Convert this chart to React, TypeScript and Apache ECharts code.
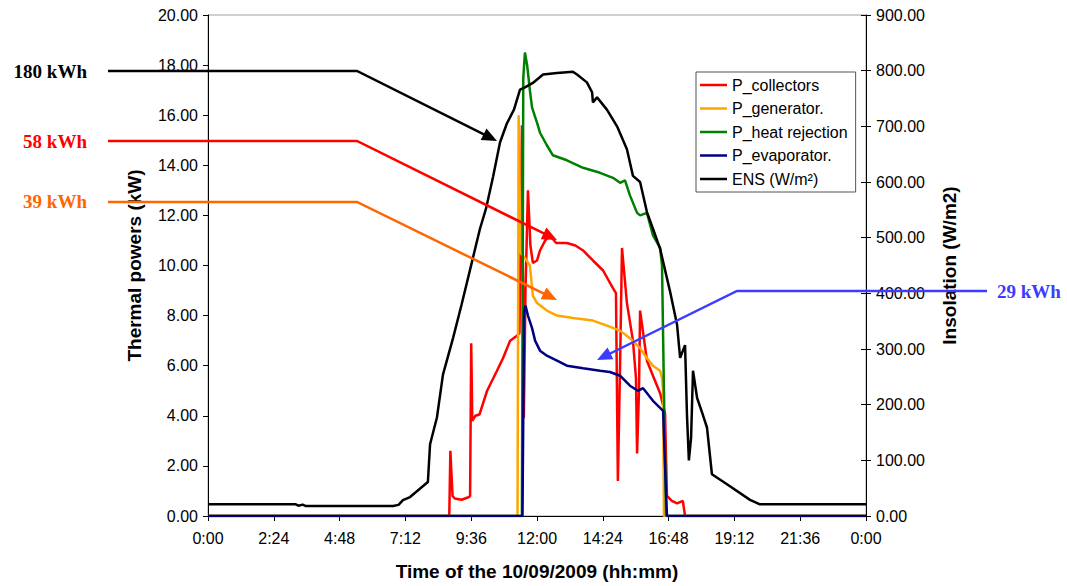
import React, { useEffect, useRef } from "react";
import * as echarts from "echarts";

// [hour of day, kW]
const collectorsData: number[][] = [
  [0, 0], [8.8, 0], [8.84, 2.6], [8.92, 0.8], [9.0, 0.7], [9.25, 0.65], [9.5, 0.75], [9.56, 0.8],
  [9.6, 6.9], [9.64, 3.8], [9.75, 4.0], [9.9, 4.05], [10.18, 5.0], [10.54, 5.8], [10.76, 6.3],
  [11.02, 7.0], [11.27, 7.2], [11.36, 7.3], [11.45, 15.6], [11.52, 3.9], [11.58, 9.0], [11.67, 13.0],
  [11.76, 10.8], [11.85, 10.1], [12.0, 10.2], [12.11, 10.6], [12.3, 11.0], [12.47, 11.2], [12.7, 10.9],
  [13.09, 10.9], [13.4, 10.8], [13.68, 10.6], [14.04, 10.2], [14.41, 9.8], [14.77, 9.1], [14.88, 8.9],
  [14.95, 1.4], [15.03, 6.0], [15.1, 10.7], [15.28, 8.5], [15.5, 7.0], [15.61, 5.5], [15.65, 2.5],
  [15.72, 5.0], [15.76, 8.2], [16.01, 6.2], [16.23, 5.6], [16.49, 4.9], [16.67, 4.1], [16.74, 0.8],
  [16.92, 0.6], [17.11, 0.5], [17.32, 0.6], [17.4, 0], [24, 0],
];

const generatorData: number[][] = [
  [0, 0], [11.29, 0], [11.33, 16.0], [11.4, 10.5], [11.56, 10.3], [11.74, 10.0], [11.85, 8.8],
  [12.0, 8.5], [12.36, 8.2], [12.73, 8.0], [13.31, 7.9], [14.04, 7.8], [14.55, 7.6], [15.03, 7.4],
  [15.39, 7.1], [15.76, 6.7], [16.01, 6.3], [16.23, 6.0], [16.49, 5.8], [16.56, 5.5], [16.6, 5.0],
  [16.63, 0], [24, 0],
];

const heatRejectionData: number[][] = [
  [0, 0], [11.45, 0], [11.5, 17.5], [11.56, 18.5], [11.64, 18.0], [11.74, 17.0], [11.82, 16.3],
  [12.0, 15.7], [12.11, 15.3], [12.36, 14.8], [12.58, 14.4], [13.09, 14.2], [13.68, 13.9],
  [14.3, 13.7], [14.77, 13.5], [15.03, 13.3], [15.21, 13.4], [15.39, 12.8], [15.65, 12.1],
  [15.76, 12.0], [16.01, 12.1], [16.23, 11.2], [16.49, 10.7], [16.56, 10.0], [16.63, 5.0],
  [16.71, 0], [24, 0],
];

const evaporatorData: number[][] = [
  [0, 0], [11.47, 0], [11.53, 8.2], [11.58, 8.4], [11.67, 8.0], [11.82, 7.5], [11.93, 7.0],
  [12.11, 6.6], [12.36, 6.4], [12.73, 6.2], [13.09, 6.0], [13.68, 5.9], [14.3, 5.8], [14.66, 5.75],
  [15.03, 5.6], [15.39, 5.2], [15.68, 5.0], [15.87, 5.1], [16.23, 4.6], [16.6, 4.2], [16.67, 2.0],
  [16.74, 0], [24, 0],
];

// [hour of day, W/m²]
const ensData: number[][] = [
  [0, 21], [3.2, 21], [3.3, 18.5], [3.45, 20.5], [3.55, 18], [6.75, 18], [6.95, 20], [7.11, 28.6],
  [7.37, 34], [8.02, 61], [8.1, 129], [8.21, 150], [8.35, 177], [8.57, 254], [8.94, 320],
  [9.25, 380], [9.63, 457], [9.92, 516], [10.14, 552], [10.4, 610], [10.65, 671], [10.9, 705],
  [11.16, 730], [11.38, 766], [11.56, 770], [11.85, 778], [12.22, 793], [12.73, 796], [13.31, 798],
  [13.46, 793], [13.82, 779], [14.01, 761], [14.04, 743], [14.19, 752], [14.55, 730], [14.92, 700],
  [15.28, 659], [15.5, 611], [15.76, 600], [16.01, 546], [16.23, 516], [16.49, 480], [16.85, 404],
  [17.11, 343], [17.22, 284], [17.4, 307], [17.47, 182], [17.54, 100], [17.62, 141], [17.69, 261],
  [17.84, 212], [18.02, 186], [18.2, 159], [18.38, 75], [18.93, 57], [19.77, 29], [20.13, 21],
  [24, 21],
];

const seriesNames = ["P_collectors", "P_generator.", "P_heat rejection", "P_evaporator.", "ENS (W/m²)"];
const seriesColors = ["#FF0000", "#FFA500", "#008000", "#000080", "#000000"];

const annotations = [
  { text: "180 kWh", color: "#000000", pts: [[108, 71], [357, 71], [497, 141]], tx: 87, ty: 71, align: "right" },
  { text: "58 kWh", color: "#FF0000", pts: [[108, 141], [357, 141], [557, 240]], tx: 87, ty: 141, align: "right" },
  { text: "39 kWh", color: "#FF6600", pts: [[108, 202], [357, 202], [557, 300]], tx: 87, ty: 201, align: "right" },
  { text: "29 kWh", color: "#3C3CFF", pts: [[987, 291], [737, 291], [597, 360]], tx: 997, ty: 291, align: "left" },
];

function arrowElements(pts: number[][], color: string) {
  const n = pts.length;
  const [tx, ty] = pts[n - 1];
  const [px, py] = pts[n - 2];
  const dx = tx - px, dy = ty - py;
  const L = Math.hypot(dx, dy);
  const ux = dx / L, uy = dy / L;
  const len = 15, w = 6.5;
  const bx = tx - ux * len, by = ty - uy * len;
  const head = [[tx, ty], [bx - uy * w, by + ux * w], [bx + uy * w, by - ux * w]];
  const linePts = [...pts.slice(0, n - 1), [bx + ux * 2, by + uy * 2]];
  return [
    { type: "polyline", z: 100, shape: { points: linePts }, style: { stroke: color, lineWidth: 2.5, fill: null } },
    { type: "polygon", z: 100, shape: { points: head }, style: { fill: color } },
  ];
}

function fmtTime(v: number) {
  const m = Math.round(v * 60) % 1440;
  const h = Math.floor(m / 60);
  const mm = m % 60;
  return `${h}:${mm < 10 ? "0" + mm : mm}`;
}

const FONT = "Liberation Sans";

export default function App() {
  const ref = useRef<HTMLDivElement>(null);
  useEffect(() => {
    if (!ref.current) return;
    const chart = echarts.init(ref.current, undefined, { renderer: "svg" });
    const graphics: any[] = [];
    annotations.forEach((a) => {
      graphics.push(...arrowElements(a.pts, a.color));
      graphics.push({
        type: "text",
        z: 100,
        x: a.tx,
        y: a.ty,
        style: {
          text: a.text,
          fill: a.color,
          font: 'bold 19px "Liberation Serif"',
          align: a.align,
          verticalAlign: "middle",
        },
      });
    });
    const datas = [collectorsData, generatorData, heatRejectionData, evaporatorData, ensData];
    chart.setOption({
      animation: false,
      backgroundColor: "#ffffff",
      grid: { left: 208, right: 201, top: 15, bottom: 67, show: true, borderColor: "#a0a0a0", borderWidth: 1 },
      legend: {
        orient: "vertical",
        left: 696,
        top: 72,
        padding: [5, 8, 5, 4],
        icon: "rect",
        itemWidth: 27,
        itemHeight: 2.5,
        itemGap: 7.5,
        borderColor: "#555555",
        borderWidth: 1,
        backgroundColor: "#ffffff",
        data: seriesNames,
        textStyle: { fontFamily: FONT, fontSize: 16, lineHeight: 16, color: "#000" },
      },
      xAxis: {
        type: "value",
        min: 0,
        max: 24,
        interval: 2.4,
        name: "Time of the 10/09/2009 (hh:mm)",
        nameLocation: "middle",
        nameGap: 46,
        nameTextStyle: { fontFamily: FONT, fontSize: 19, fontWeight: "bold", color: "#000" },
        axisLine: { lineStyle: { color: "#000", width: 1 } },
        axisTick: { length: 5, lineStyle: { color: "#000" } },
        axisLabel: { formatter: fmtTime, fontFamily: FONT, fontSize: 16, color: "#000", margin: 14 },
        splitLine: { show: false },
      },
      yAxis: [
        {
          type: "value",
          min: 0,
          max: 20,
          interval: 2,
          position: "left",
          name: "Thermal powers (kW)",
          nameLocation: "middle",
          nameGap: 64,
          nameTextStyle: { fontFamily: FONT, fontSize: 19, fontWeight: "bold", color: "#000" },
          axisLine: { show: true, lineStyle: { color: "#000", width: 1 } },
          axisTick: { show: true, length: 5, lineStyle: { color: "#000" } },
          axisLabel: { formatter: (v: number) => v.toFixed(2), fontFamily: FONT, fontSize: 16, color: "#000", margin: 10 },
          splitLine: { show: false },
        },
        {
          type: "value",
          min: 0,
          max: 900,
          interval: 100,
          position: "right",
          name: "Insolation (W/m2)",
          nameLocation: "middle",
          nameGap: 74,
          nameTextStyle: { fontFamily: FONT, fontSize: 19, fontWeight: "bold", color: "#000" },
          axisLine: { show: true, lineStyle: { color: "#000", width: 1 } },
          axisTick: { show: true, length: 5, lineStyle: { color: "#000" } },
          axisLabel: { formatter: (v: number) => v.toFixed(2), fontFamily: FONT, fontSize: 16, color: "#000", margin: 10 },
          splitLine: { show: false },
        },
        {
          type: "value",
          min: 0,
          max: 900,
          interval: 100,
          position: "right",
          axisLine: { show: false },
          axisTick: { show: true, inside: true, length: 5, lineStyle: { color: "#000" } },
          axisLabel: { show: false },
          splitLine: { show: false },
        },
      ],
      series: seriesNames.map((name, i) => ({
        name,
        type: "line",
        yAxisIndex: i === 4 ? 1 : 0,
        data: datas[i],
        symbol: "none",
        showSymbol: false,
        color: seriesColors[i],
        lineStyle: { color: seriesColors[i], width: 2.5 },
        z: i === 3 ? 4 : 3,
      })),
      graphic: graphics,
    });
    return () => chart.dispose();
  }, []);
  return <div ref={ref} style={{ position: "fixed", left: 0, top: 0, width: 1067, height: 586 }} />;
}
